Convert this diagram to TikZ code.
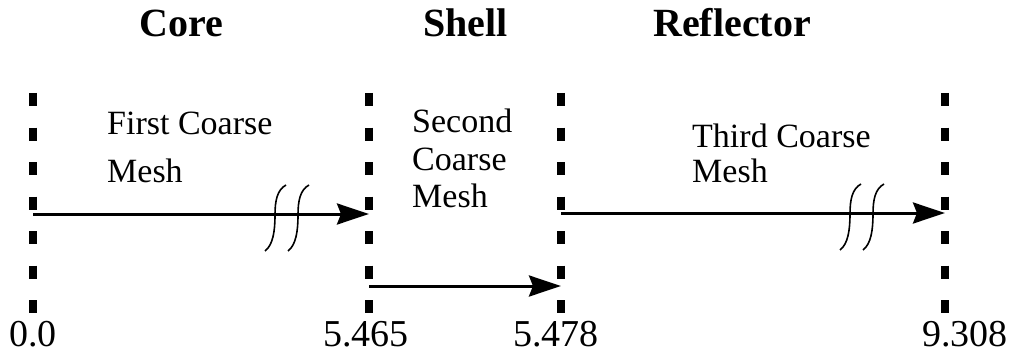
\documentclass[tikz,border=0pt]{standalone}
\usepackage{fontspec}
\setmainfont{Liberation Serif}
\usetikzlibrary{arrows.meta}
\begin{document}
\begin{tikzpicture}[x=1pt,y=-1pt,
  bound/.style={line width=7.5pt,dash pattern=on 13pt off 21.5pt},
  arr/.style={line width=3pt,-{Stealth[length=32pt,width=21pt,inset=4pt]}},
  brk/.style={line width=1.6pt},
  title/.style={inner sep=0pt,anchor=base west,font=\fontsize{40}{48}\selectfont\bfseries},
  lbl/.style={inner sep=0pt,anchor=base west,font=\fontsize{34}{40}\selectfont},
  num/.style={inner sep=0pt,anchor=base west,font=\fontsize{38}{44}\selectfont}]
\useasboundingbox (0,0) rectangle (1013,353);
% titles
\node[title] (tcore) at (139,37) {Core};
\node[title] (tshell) at (423,37) {Shell};
\node[title] (trefl) at (653,37) {Reflector};
% boundaries
\coordinate (b0t) at (33,93);  \coordinate (b0b) at (33,314);
\coordinate (b1t) at (369,93); \coordinate (b1b) at (369,314);
\coordinate (b2t) at (561,93); \coordinate (b2b) at (561,314);
\coordinate (b3t) at (945,93); \coordinate (b3b) at (945,314);
\draw[bound] (b0t) -- (b0b);
\draw[bound] (b1t) -- (b1b);
\draw[bound] (b2t) -- (b2b);
\draw[bound] (b3t) -- (b3b);
% arrows
\coordinate (a1s) at (33,214);  \coordinate (a1e) at (369,214);
\coordinate (a2s) at (369,286); \coordinate (a2e) at (561,286);
\coordinate (a3s) at (561,213); \coordinate (a3e) at (945,213);
\draw[arr] (a1s) -- (a1e);
\draw[arr] (a2s) -- (a2e);
\draw[arr] (a3s) -- (a3e);
% break marks
\foreach \bx/\by in {275/215, 298/215, 850/214, 873/214}{
  \draw[brk] (\bx+11,\by-30) .. controls (\bx+2,\by-25) and (\bx,\by-14) .. (\bx,\by)
             .. controls (\bx,\by+16) and (\bx-2,\by+30) .. (\bx-10,\by+36);
}
% labels
\node[lbl] (l1a) at (107,135) {First Coarse};
\node[lbl] (l1b) at (107,182) {Mesh};
\node[lbl] (l2a) at (412,132) {Second};
\node[lbl] (l2b) at (412,170) {Coarse};
\node[lbl] (l2c) at (412,207) {Mesh};
\node[lbl] (l3a) at (692,147) {Third Coarse};
\node[lbl] (l3b) at (692,182) {Mesh};
% numbers
\node[num] (n0) at (9,346) {0.0};
\node[num] (n1) at (323,346) {5.465};
\node[num] (n2) at (513,346) {5.478};
\node[num] (n3) at (922,346) {9.308};
\end{tikzpicture}
\end{document}
